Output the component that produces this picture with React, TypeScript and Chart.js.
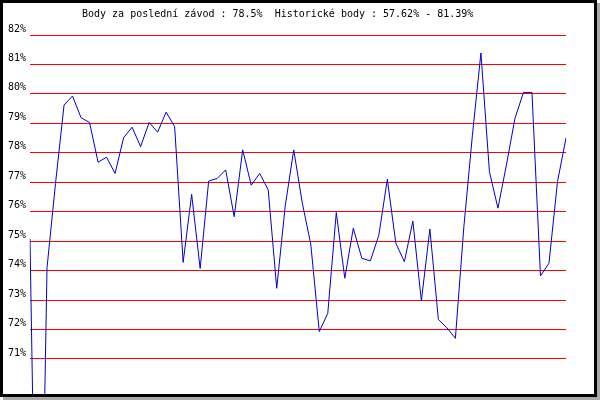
import React, { useEffect, useRef } from "react";
import { Chart, registerables } from "chart.js";

Chart.register(...registerables);

const titleText = "Body za poslední závod : 78.5%  Historické body : 57.62% - 81.39%";

const races: string[] = [
  "1","2","3","4","5","6","7","8","9","10","11","12","13","14","15","16",
  "17","18","19","20","21","22","23","24","25","26","27","28","29","30","31","32",
  "33","34","35","36","37","38","39","40","41","42","43","44","45","46","47","48",
  "49","50","51","52","53","54","55","56","57","58","59","60","61","62","63","64",
];

const points: number[] = [
  75.07, 57.62, 74.1, 76.96, 79.62, 79.93, 79.19, 79.03,
  77.68, 77.85, 77.3, 78.51, 78.87, 78.21, 79.03, 78.7,
  79.38, 78.89, 74.28, 76.59, 74.07, 77.04, 77.13, 77.42,
  75.83, 78.1, 76.9, 77.3, 76.74, 73.4, 76.2, 78.1,
  76.3, 74.9, 71.93, 72.55, 75.97, 73.74, 75.44, 74.42,
  74.33, 75.2, 77.1, 74.93, 74.3, 75.68, 72.97, 75.41,
  72.34, 72.06, 71.7, 75.5, 78.6, 81.39, 77.36, 76.12,
  77.59, 79.17, 80.05, 80.05, 73.82, 74.25, 77.02, 78.5,
];

const yTicks: number[] = [71, 72, 73, 74, 75, 76, 77, 78, 79, 80, 81, 82];
const yMin = 69.81;
const yMax = 82.17;

const FONT = '"DejaVu Sans Mono", monospace';

const titlePlugin = {
  id: "topTitle",
  afterDraw(chart: any) {
    const ctx = chart.ctx;
    ctx.save();
    ctx.font = `10px ${FONT}`;
    ctx.fillStyle = "#000000";
    ctx.textAlign = "left";
    ctx.textBaseline = "middle";
    ctx.fillText(titleText, 82, 14);
    ctx.restore();
  },
};

export default function App() {
  const ref = useRef<HTMLCanvasElement | null>(null);

  useEffect(() => {
    if (!ref.current) return;
    const chart = new Chart(ref.current, {
      type: "line",
      data: {
        labels: races,
        datasets: [
          {
            data: points,
            borderColor: "#0000cc",
            borderWidth: 1,
            pointRadius: 0,
            tension: 0,
            fill: false,
          },
        ],
      },
      options: {
        animation: false,
        responsive: false,
        events: [],
        layout: { padding: { left: 0, right: 34, top: 30, bottom: 6 } },
        plugins: {
          legend: { display: false },
          tooltip: { enabled: false },
          title: { display: false },
        },
        scales: {
          x: {
            type: "category",
            display: false,
            offset: false,
          },
          y: {
            min: yMin,
            max: yMax,
            afterFit: (s: any) => {
              s.width = 30;
              s.paddingTop = 0;
              s.paddingBottom = 0;
            },
            afterBuildTicks: (s: any) => {
              s.ticks = yTicks.map((v) => ({ value: v }));
            },
            grid: { color: "#ff0000", lineWidth: 1, drawTicks: false },
            border: { display: false },
            ticks: {
              autoSkip: false,
              padding: 4,
              color: "#000000",
              font: { family: FONT, size: 10, lineHeight: 1.2 },
              callback: (v: any) => [`${v}%`, ""],
            },
          },
        },
      },
      plugins: [titlePlugin],
    } as any);
    return () => chart.destroy();
  }, []);

  return (
    <div style={{ position: "fixed", left: 0, top: 0, width: 600, height: 400, background: "#ffffff" }}>
      <div
        style={{
          position: "absolute",
          left: 0,
          top: 0,
          width: 597,
          height: 397,
          boxSizing: "border-box",
          border: "3px solid #000000",
          background: "#ffffff",
          boxShadow: "3px 3px 0 #a8a8a8",
        }}
      />
      <canvas
        ref={ref}
        width={600}
        height={400}
        style={{ position: "absolute", left: 0, top: 0, width: 600, height: 400 }}
      />
    </div>
  );
}
